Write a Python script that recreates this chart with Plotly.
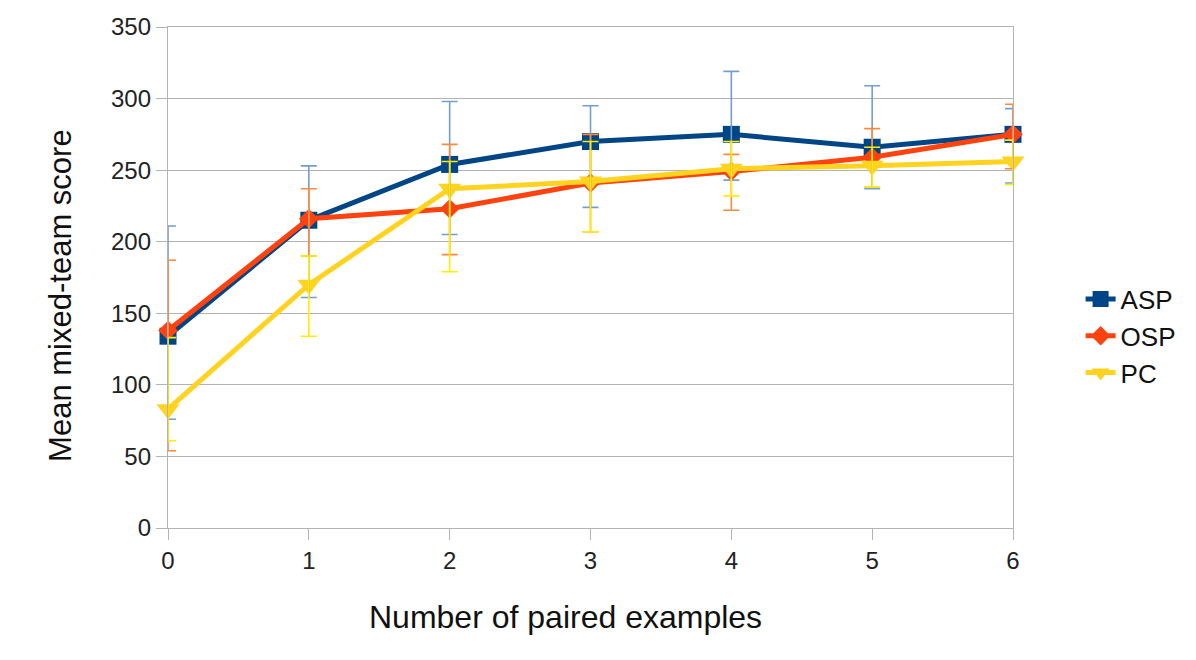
import plotly.graph_objects as go

x_vals = [0, 1, 2, 3, 4, 5, 6]
series_names = ["ASP", "OSP", "PC"]

asp_mean = [134, 215, 254, 270, 275, 266, 275]
asp_upper = [211, 253, 298, 295, 319, 309, 293]
asp_lower = [76, 161, 205, 224, 243, 237, 241]

osp_mean = [138, 216, 223, 241, 249, 259, 275]
osp_upper = [187, 237, 268, 275, 261, 279, 296]
osp_lower = [54, 190, 191, 207, 222, 238, 251]

pc_mean = [83, 170, 237, 242, 251, 253, 256]
pc_upper = [133, 190, 256, 270, 270, 266, 271]
pc_lower = [61, 134, 179, 207, 232, 238, 240]

y_ticks = [0, 50, 100, 150, 200, 250, 300, 350]

line_colors = ["#004586", "#ff420e", "#ffd320"]
err_colors = ["#729fcf", "#ff8a3d", "#ffee00"]
symbols = ["square", "diamond", "triangle-down"]
marker_sizes = [17, 15, 20]

means = [asp_mean, osp_mean, pc_mean]
uppers = [asp_upper, osp_upper, pc_upper]
lowers = [asp_lower, osp_lower, pc_lower]

fig = go.Figure()

for name, m, col, sym, ms in zip(series_names, means, line_colors, symbols, marker_sizes):
    fig.add_trace(go.Scatter(
        x=x_vals, y=m, name=name, mode="lines+markers",
        line=dict(color=col, width=5),
        marker=dict(symbol=sym, size=ms, color=col),
        cliponaxis=False,
    ))

for name, m, up, lo, ec in zip(series_names, means, uppers, lowers, err_colors):
    fig.add_trace(go.Scatter(
        x=x_vals, y=m, mode="markers", showlegend=False, hoverinfo="skip",
        marker=dict(size=0.1, color="rgba(0,0,0,0)"),
        error_y=dict(
            type="data", symmetric=False,
            array=[u - v for u, v in zip(up, m)],
            arrayminus=[v - l for v, l in zip(m, lo)],
            color=ec, thickness=1.6, width=8,
        ),
        cliponaxis=False,
    ))

fig.update_layout(
    width=1196, height=660,
    margin=dict(l=160, r=191, t=19, b=140),
    paper_bgcolor="white", plot_bgcolor="white",
    font=dict(family="Liberation Sans, Arial, sans-serif", color="#000000"),
    showlegend=True,
    legend=dict(
        x=1.08, xanchor="left", y=0.383, yanchor="middle",
        font=dict(size=26, color="#111111"),
        bgcolor="rgba(0,0,0,0)",
    ),
    xaxis=dict(
        range=[0, 6], tickvals=x_vals, ticktext=[str(v) for v in x_vals],
        showgrid=False, zeroline=False,
        showline=True, linecolor="#b3b3b3", linewidth=1.3, mirror=True,
        ticks="outside", ticklen=11, tickcolor="#b3b3b3", tickwidth=1.3,
        tickfont=dict(size=24, color="#222222"),
        automargin=False,
    ),
    yaxis=dict(
        range=[0, 350], tickvals=y_ticks,
        showgrid=True, gridcolor="#b3b3b3", gridwidth=1.3, zeroline=False,
        showline=True, linecolor="#b3b3b3", linewidth=1.3, mirror=True,
        ticks="outside", ticklen=11, tickcolor="#b3b3b3", tickwidth=1.3,
        tickfont=dict(size=24, color="#222222"),
        automargin=False,
    ),
    annotations=[
        dict(text="Number of paired examples", xref="paper", yref="paper",
             x=0.47, y=-0.178, xanchor="center", yanchor="middle",
             showarrow=False, font=dict(size=32, color="#111111")),
        dict(text="Mean mixed-team score", xref="paper", yref="paper",
             x=-0.128, y=0.465, xanchor="center", yanchor="middle", textangle=-90,
             showarrow=False, font=dict(size=31, color="#111111")),
    ],
)

fig.write_html("out.html")
